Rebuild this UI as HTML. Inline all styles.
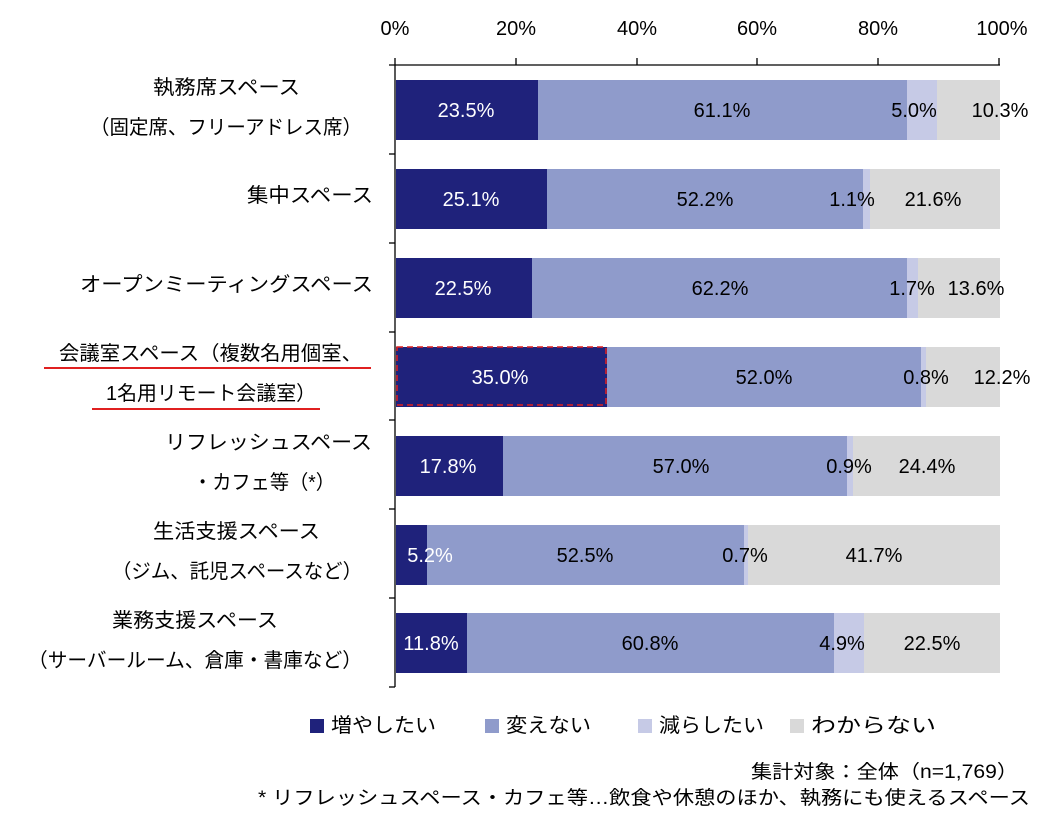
<!DOCTYPE html>
<html><head><meta charset="utf-8"><style>
body{margin:0;background:#fff;}
svg text{font-family:"Liberation Sans","Noto Sans CJK JP",sans-serif;}
</style></head><body>
<svg width="1045" height="828" xmlns="http://www.w3.org/2000/svg">
<g font-size="20" fill="#000" text-anchor="middle">
<text x="395" y="35">0%</text><text x="516" y="35">20%</text><text x="637" y="35">40%</text><text x="757" y="35">60%</text><text x="878" y="35">80%</text><text x="1002" y="35">100%</text>
</g>
<g stroke="#000" stroke-width="1.3">
<line x1="389" y1="65" x2="1000" y2="65"/>
<line x1="395" y1="58" x2="395" y2="687"/>
<line x1="516" y1="58" x2="516" y2="65"/><line x1="637" y1="58" x2="637" y2="65"/><line x1="757" y1="58" x2="757" y2="65"/><line x1="878" y1="58" x2="878" y2="65"/><line x1="999" y1="58" x2="999" y2="65"/>
<line x1="389" y1="154" x2="395" y2="154"/><line x1="389" y1="243" x2="395" y2="243"/><line x1="389" y1="332" x2="395" y2="332"/><line x1="389" y1="420" x2="395" y2="420"/><line x1="389" y1="509" x2="395" y2="509"/><line x1="389" y1="598" x2="395" y2="598"/><line x1="389" y1="687" x2="395" y2="687"/>
</g>
<g>
<rect x="396" y="80" width="142" height="60" fill="#1f227b"/><rect x="538" y="80" width="369" height="60" fill="#8f9bcb"/><rect x="907" y="80" width="30" height="60" fill="#c6cae6"/><rect x="937" y="80" width="63" height="60" fill="#d9d9d9"/>
<rect x="396" y="169" width="151" height="60" fill="#1f227b"/><rect x="547" y="169" width="316" height="60" fill="#8f9bcb"/><rect x="863" y="169" width="7" height="60" fill="#c6cae6"/><rect x="870" y="169" width="130" height="60" fill="#d9d9d9"/>
<rect x="396" y="258" width="136" height="60" fill="#1f227b"/><rect x="532" y="258" width="375" height="60" fill="#8f9bcb"/><rect x="907" y="258" width="11" height="60" fill="#c6cae6"/><rect x="918" y="258" width="82" height="60" fill="#d9d9d9"/>
<rect x="396" y="347" width="211" height="60" fill="#1f227b"/><rect x="607" y="347" width="314" height="60" fill="#8f9bcb"/><rect x="921" y="347" width="5" height="60" fill="#c6cae6"/><rect x="926" y="347" width="74" height="60" fill="#d9d9d9"/>
<rect x="396" y="436" width="107" height="60" fill="#1f227b"/><rect x="503" y="436" width="344" height="60" fill="#8f9bcb"/><rect x="847" y="436" width="6" height="60" fill="#c6cae6"/><rect x="853" y="436" width="147" height="60" fill="#d9d9d9"/>
<rect x="396" y="525" width="31" height="60" fill="#1f227b"/><rect x="427" y="525" width="317" height="60" fill="#8f9bcb"/><rect x="744" y="525" width="4" height="60" fill="#c6cae6"/><rect x="748" y="525" width="252" height="60" fill="#d9d9d9"/>
<rect x="396" y="613" width="71" height="60" fill="#1f227b"/><rect x="467" y="613" width="367" height="60" fill="#8f9bcb"/><rect x="834" y="613" width="30" height="60" fill="#c6cae6"/><rect x="864" y="613" width="136" height="60" fill="#d9d9d9"/>
</g>
<rect x="397" y="347" width="209" height="58" fill="none" stroke="#e02020" stroke-width="1.5" stroke-dasharray="6,4"/>
<g font-size="20" text-anchor="middle" fill="#000">
<text x="466" y="117" fill="#fff">23.5%</text><text x="722" y="117">61.1%</text><text x="914" y="117">5.0%</text><text x="1000" y="117">10.3%</text>
<text x="471" y="206" fill="#fff">25.1%</text><text x="705" y="206">52.2%</text><text x="852" y="206">1.1%</text><text x="933" y="206">21.6%</text>
<text x="463" y="295" fill="#fff">22.5%</text><text x="720" y="295">62.2%</text><text x="912" y="295">1.7%</text><text x="976" y="295">13.6%</text>
<text x="500" y="384" fill="#fff">35.0%</text><text x="764" y="384">52.0%</text><text x="926" y="384">0.8%</text><text x="1002" y="384">12.2%</text>
<text x="448" y="473" fill="#fff">17.8%</text><text x="681" y="473">57.0%</text><text x="849" y="473">0.9%</text><text x="927" y="473">24.4%</text>
<text x="430" y="562" fill="#fff">5.2%</text><text x="585" y="562">52.5%</text><text x="745" y="562">0.7%</text><text x="874" y="562">41.7%</text>
<text x="431" y="650" fill="#fff">11.8%</text><text x="650" y="650">60.8%</text><text x="842" y="650">4.9%</text><text x="932" y="650">22.5%</text>
</g>
<g font-size="20" fill="#000" lengthAdjust="spacingAndGlyphs">
<text x="153" y="94" textLength="147" lengthAdjust="spacingAndGlyphs">執務席スペース</text>
<text x="90" y="134" textLength="272" lengthAdjust="spacingAndGlyphs">（固定席、フリーアドレス席）</text>
<text x="247" y="202" textLength="126" lengthAdjust="spacingAndGlyphs">集中スペース</text>
<text x="80" y="291" textLength="293" lengthAdjust="spacingAndGlyphs">オープンミーティングスペース</text>
<text x="59" y="360" textLength="303" lengthAdjust="spacingAndGlyphs">会議室スペース（複数名用個室、</text>
<text x="106" y="400" textLength="210" lengthAdjust="spacingAndGlyphs">1名用リモート会議室）</text>
<text x="165" y="449" textLength="207" lengthAdjust="spacingAndGlyphs">リフレッシュスペース</text>
<text x="193" y="489" textLength="142" lengthAdjust="spacingAndGlyphs">・カフェ等（*）</text>
<text x="153" y="538" textLength="167" lengthAdjust="spacingAndGlyphs">生活支援スペース</text>
<text x="112" y="578" textLength="250" lengthAdjust="spacingAndGlyphs">（ジム、託児スペースなど）</text>
<text x="112" y="627" textLength="166" lengthAdjust="spacingAndGlyphs">業務支援スペース</text>
<text x="28" y="667" textLength="334" lengthAdjust="spacingAndGlyphs">（サーバールーム、倉庫・書庫など）</text>
</g>
<line x1="44" y1="368" x2="371" y2="368" stroke="#e02020" stroke-width="2"/>
<line x1="92" y1="409" x2="320" y2="409" stroke="#e02020" stroke-width="2"/>
<g font-size="20" fill="#000">
<rect x="310" y="719" width="14" height="14" fill="#1f227b"/><text x="331" y="732" textLength="105" lengthAdjust="spacingAndGlyphs">増やしたい</text>
<rect x="485" y="719" width="14" height="14" fill="#8f9bcb"/><text x="506" y="732" textLength="85" lengthAdjust="spacingAndGlyphs">変えない</text>
<rect x="638" y="719" width="14" height="14" fill="#c6cae6"/><text x="659" y="732" textLength="105" lengthAdjust="spacingAndGlyphs">減らしたい</text>
<rect x="790" y="719" width="14" height="14" fill="#d9d9d9"/><text x="811" y="732" textLength="125" lengthAdjust="spacingAndGlyphs">わからない</text>
</g>
<g font-size="19" fill="#000">
<text x="751" y="778" textLength="267" lengthAdjust="spacingAndGlyphs">集計対象：全体（n=1,769）</text>
<text x="258" y="804" textLength="772" lengthAdjust="spacingAndGlyphs">* リフレッシュスペース・カフェ等…飲食や休憩のほか、執務にも使えるスペース</text>
</g>
</svg>
</body></html>
